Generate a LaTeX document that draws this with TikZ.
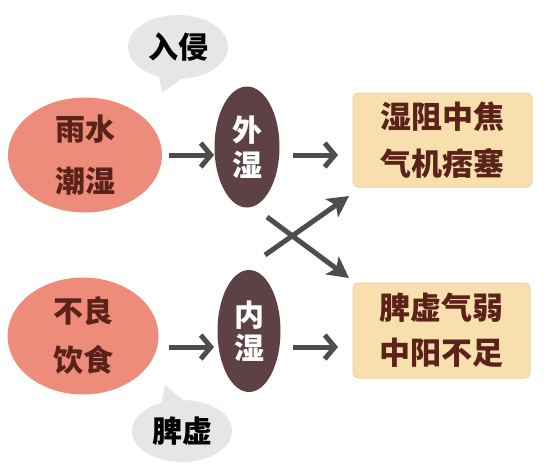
\documentclass[tikz,border=0pt]{standalone}
\usepackage{fontspec}
\newfontfamily\cjk{Noto Sans CJK SC}
\usetikzlibrary{shapes.geometric,arrows.meta}
\definecolor{pinkc}{HTML}{EE8C7B}
\definecolor{darkc}{HTML}{5E4144}
\definecolor{boxc}{HTML}{F8DFAE}
\definecolor{boxe}{HTML}{F0D4A2}
\definecolor{bubc}{HTML}{E8E5E5}
\definecolor{arrc}{HTML}{4D4D4D}
\definecolor{txtc}{HTML}{5A2219}
\tikzset{
  src/.style={ellipse, fill=pinkc, inner sep=0pt, align=center, text=txtc},
  mid/.style={ellipse, fill=darkc, inner sep=0pt, align=center, text=white},
  res/.style={rectangle, rounded corners=5pt, fill=boxc, draw=boxe, line width=1pt, inner sep=0pt, align=center, text=txtc},
  bub/.style={ellipse, fill=bubc, inner sep=0pt, text=black, font=\cjk\bfseries\fontsize{30}{30}\selectfont},
  harrow/.style={draw=arrc, line width=5pt, -{Straight Barb[length=10pt,width=24pt]}},
  xarrow/.style={draw=arrc, line width=5pt, -{Stealth[length=21pt,width=22pt,inset=5pt]}},
}
\begin{document}
\begin{tikzpicture}[x=1pt,y=-1pt]
\useasboundingbox (0,0) rectangle (557,472);
\fill[white] (0,0) rectangle (557,472);
% speech bubbles
\fill[bubc] (158,70) -- (162,93) -- (188,74) -- cycle;
\node[bub, minimum width=100pt, minimum height=64pt] (qin) at (178,47) {入侵};
\fill[bubc] (160,412) -- (165,385) -- (190,406) -- cycle;
\node[bub, minimum width=100pt, minimum height=62pt] (pix) at (182,431) {脾虚};
% sources
\node[src, minimum width=154pt, minimum height=115pt, font=\cjk\bfseries\fontsize{30}{52}\selectfont] (rain) at (85,155) {雨水\\潮湿};
\node[src, minimum width=151pt, minimum height=117pt, font=\cjk\bfseries\fontsize{30}{49}\selectfont] (diet) at (83,336) {不良\\饮食};
% middle
\node[mid, minimum width=65pt, minimum height=121pt, font=\cjk\bfseries\fontsize{30}{35}\selectfont] (wai) at (247,147) {外\\湿};
\node[mid, minimum width=63pt, minimum height=122pt, font=\cjk\bfseries\fontsize{30}{33}\selectfont] (nei) at (249,331) {内\\湿};
% results
\node[res, minimum width=179pt, minimum height=94pt, font=\cjk\bfseries\fontsize{31}{47}\selectfont] (r1) at (442.5,140) {湿阻中焦\\气机痞塞};
\node[res, minimum width=177pt, minimum height=95pt, font=\cjk\bfseries\fontsize{31}{45}\selectfont] (r2) at (441.5,330.5) {脾虚气弱\\中阳不足};
% horizontal arrows
\coordinate (a1s) at (169,155); \coordinate (a1e) at (214,155);
\coordinate (a2s) at (293,155); \coordinate (a2e) at (338,155);
\coordinate (a3s) at (169,347); \coordinate (a3e) at (214,347);
\coordinate (a4s) at (293,347); \coordinate (a4e) at (338,347);
\draw[harrow] (a1s) -- (a1e);
\draw[harrow] (a2s) -- (a2e);
\draw[harrow] (a3s) -- (a3e);
\draw[harrow] (a4s) -- (a4e);
% cross arrows
\coordinate (c1s) at (267,217); \coordinate (c1e) at (349,278);
\coordinate (c2s) at (265,255); \coordinate (c2e) at (349,196);
\draw[xarrow] (c1s) -- (c1e);
\draw[xarrow] (c2s) -- (c2e);
\end{tikzpicture}
\end{document}
